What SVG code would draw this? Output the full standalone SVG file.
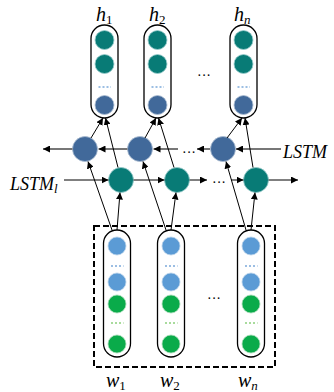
<svg xmlns="http://www.w3.org/2000/svg" width="334" height="392" viewBox="0 0 334 392">
  <defs>
    <marker id="ah" viewBox="0 0 10 10" refX="10" refY="5" markerWidth="7" markerHeight="7" markerUnits="userSpaceOnUse" orient="auto">
      <path d="M0,0 L10,5 L0,10 z" fill="#000"/>
    </marker>
    <style>
      .cap { fill: none; stroke: #000; stroke-width: 1.3; }
      .teal { fill: #087b76; stroke: #9cc; stroke-width: 0.8; }
      .steel { fill: #41699a; stroke: #a9bbd0; stroke-width: 0.8; }
      .sky { fill: #5b9bd5; stroke: #b8d2ea; stroke-width: 0.8; }
      .green { fill: #0aab4a; stroke: #a6dcb6; stroke-width: 0.8; }
      .dotsB { stroke: #3b7fc8; stroke-width: 1.2; stroke-dasharray: 2 2; }
      .dotsG { stroke: #53b83a; stroke-width: 1.2; stroke-dasharray: 2 2; }
      .lbl { font-family: "Liberation Serif", serif; font-style: italic; font-size: 18px; fill: #000; }
      .var { font-family: "Liberation Serif", serif; font-style: italic; font-size: 20px; fill: #000; }
      .sub { font-family: "Liberation Serif", serif; font-style: normal; font-size: 13px; fill: #000; }
      .subi { font-family: "Liberation Serif", serif; font-style: italic; font-size: 13px; fill: #000; }
      .ell { font-family: "Liberation Serif", serif; font-size: 14px; fill: #000; }
      .thin { stroke: #000; stroke-width: 1; fill: none; marker-end: url(#ah); }
      .grey { stroke: #777; stroke-width: 2; fill: none; marker-end: url(#ah); }
    </style>
  </defs>
  <rect width="334" height="392" fill="#fff"/>

  <!-- output vectors h -->
  <g id="h1">
    <rect class="cap" x="91" y="25" width="27" height="93" rx="13.5"/>
    <circle class="teal" cx="104.5" cy="40" r="9.5"/>
    <circle class="teal" cx="104.5" cy="64" r="9.5"/>
    <line class="dotsB" x1="98.5" y1="87" x2="111" y2="87"/>
    <circle class="steel" cx="104.5" cy="105" r="9.5"/>
    <text class="var" x="96" y="21">h<tspan class="sub" dy="3">1</tspan></text>
  </g>
  <g id="h2">
    <rect class="cap" x="144" y="25" width="27" height="93" rx="13.5"/>
    <circle class="teal" cx="157.5" cy="40" r="9.5"/>
    <circle class="teal" cx="157.5" cy="64" r="9.5"/>
    <line class="dotsB" x1="151.5" y1="87" x2="164" y2="87"/>
    <circle class="steel" cx="157.5" cy="105" r="9.5"/>
    <text class="var" x="149" y="21">h<tspan class="sub" dy="3">2</tspan></text>
  </g>
  <g id="hn">
    <rect class="cap" x="230" y="25" width="27" height="93" rx="13.5"/>
    <circle class="teal" cx="243.5" cy="40" r="9.5"/>
    <circle class="teal" cx="243.5" cy="64" r="9.5"/>
    <line class="dotsB" x1="237.5" y1="87" x2="250" y2="87"/>
    <circle class="steel" cx="243.5" cy="105" r="9.5"/>
    <text class="var" x="234" y="21">h<tspan class="subi" dy="3">n</tspan></text>
  </g>
  <text class="ell" x="197" y="80">···</text>

  <!-- backward LSTM cells -->
  <g id="bw1"><circle class="steel" cx="85" cy="149" r="12.5"/></g>
  <g id="bw2"><circle class="steel" cx="140" cy="149" r="12.5"/></g>
  <g id="bwn"><circle class="steel" cx="223" cy="149" r="12.5"/></g>
  <!-- forward LSTM cells -->
  <g id="fw1"><circle class="teal" cx="121" cy="180" r="12.5"/></g>
  <g id="fw2"><circle class="teal" cx="177" cy="180" r="12.5"/></g>
  <g id="fwn"><circle class="teal" cx="256" cy="180" r="12.5"/></g>

  <g id="labels">
    <text class="lbl" x="283" y="158">LSTM</text>
    <text class="lbl" x="10" y="190">LSTM<tspan class="subi" dy="3">l</tspan></text>
    <text class="ell" x="182" y="157">···</text>
    <text class="ell" x="212" y="187">···</text>
  </g>

  <!-- input word vectors w -->
  <rect x="94" y="226" width="181" height="141" fill="none" stroke="#000" stroke-width="2" stroke-dasharray="6 3"/>
  <g id="w1">
    <rect class="cap" x="103.5" y="230" width="27" height="127" rx="13.5"/>
    <circle class="sky" cx="117" cy="246" r="9"/>
    <line class="dotsB" x1="111" y1="266" x2="123.5" y2="266"/>
    <circle class="sky" cx="117" cy="282" r="9"/>
    <circle class="green" cx="117" cy="304" r="9"/>
    <line class="dotsG" x1="111" y1="323" x2="123.5" y2="323"/>
    <circle class="green" cx="117" cy="344" r="9"/>
    <text class="var" x="106" y="387">w<tspan class="sub" dy="3">1</tspan></text>
  </g>
  <g id="w2">
    <rect class="cap" x="157.5" y="230" width="27" height="127" rx="13.5"/>
    <circle class="sky" cx="171" cy="246" r="9"/>
    <line class="dotsB" x1="165" y1="266" x2="177.5" y2="266"/>
    <circle class="sky" cx="171" cy="282" r="9"/>
    <circle class="green" cx="171" cy="304" r="9"/>
    <line class="dotsG" x1="165" y1="323" x2="177.5" y2="323"/>
    <circle class="green" cx="171" cy="344" r="9"/>
    <text class="var" x="160" y="387">w<tspan class="sub" dy="3">2</tspan></text>
  </g>
  <g id="wn">
    <rect class="cap" x="237.5" y="230" width="27" height="127" rx="13.5"/>
    <circle class="sky" cx="251" cy="246" r="9"/>
    <line class="dotsB" x1="245" y1="266" x2="257.5" y2="266"/>
    <circle class="sky" cx="251" cy="282" r="9"/>
    <circle class="green" cx="251" cy="304" r="9"/>
    <line class="dotsG" x1="245" y1="323" x2="257.5" y2="323"/>
    <circle class="green" cx="251" cy="344" r="9"/>
    <text class="var" x="238" y="387">w<tspan class="subi" dy="3">n</tspan></text>
  </g>
  <text class="ell" x="207" y="303">···</text>

  <g id="connectors">
    <!-- backward chain -->
    <line class="grey" x1="281" y1="149" x2="236" y2="149"/>
    <line class="grey" x1="210" y1="149" x2="197" y2="149"/>
    <line class="grey" x1="178" y1="149" x2="153.5" y2="149"/>
    <line class="grey" x1="127.5" y1="149" x2="98.5" y2="149"/>
    <line class="grey" x1="72.5" y1="149" x2="43" y2="149"/>
    <!-- forward chain -->
    <line class="thin" x1="64" y1="180" x2="108.5" y2="180"/>
    <line class="thin" x1="133.5" y1="180" x2="164.5" y2="180"/>
    <line class="thin" x1="189.5" y1="180" x2="207" y2="180"/>
    <line class="thin" x1="231" y1="180" x2="243.5" y2="180"/>
    <line class="thin" x1="268.5" y1="180" x2="298" y2="180"/>
    <!-- inputs to cells -->
    <line class="thin" x1="112" y1="230" x2="88" y2="161.5"/>
    <line class="thin" x1="117" y1="230" x2="120" y2="192.5"/>
    <line class="thin" x1="166" y1="230" x2="143" y2="161.5"/>
    <line class="thin" x1="171" y1="230" x2="176" y2="192.5"/>
    <line class="thin" x1="246" y1="230" x2="226" y2="161.5"/>
    <line class="thin" x1="251" y1="230" x2="255" y2="192.5"/>
    <!-- cells to outputs -->
    <line class="thin" x1="118" y1="167.5" x2="105.5" y2="118"/>
    <line class="thin" x1="91" y1="138" x2="103" y2="118"/>
    <line class="thin" x1="174" y1="167.5" x2="158.5" y2="118"/>
    <line class="thin" x1="145" y1="138" x2="156" y2="118"/>
    <line class="thin" x1="253" y1="167.5" x2="245" y2="118"/>
    <line class="thin" x1="227" y1="138" x2="242" y2="118"/>
  </g>
</svg>
